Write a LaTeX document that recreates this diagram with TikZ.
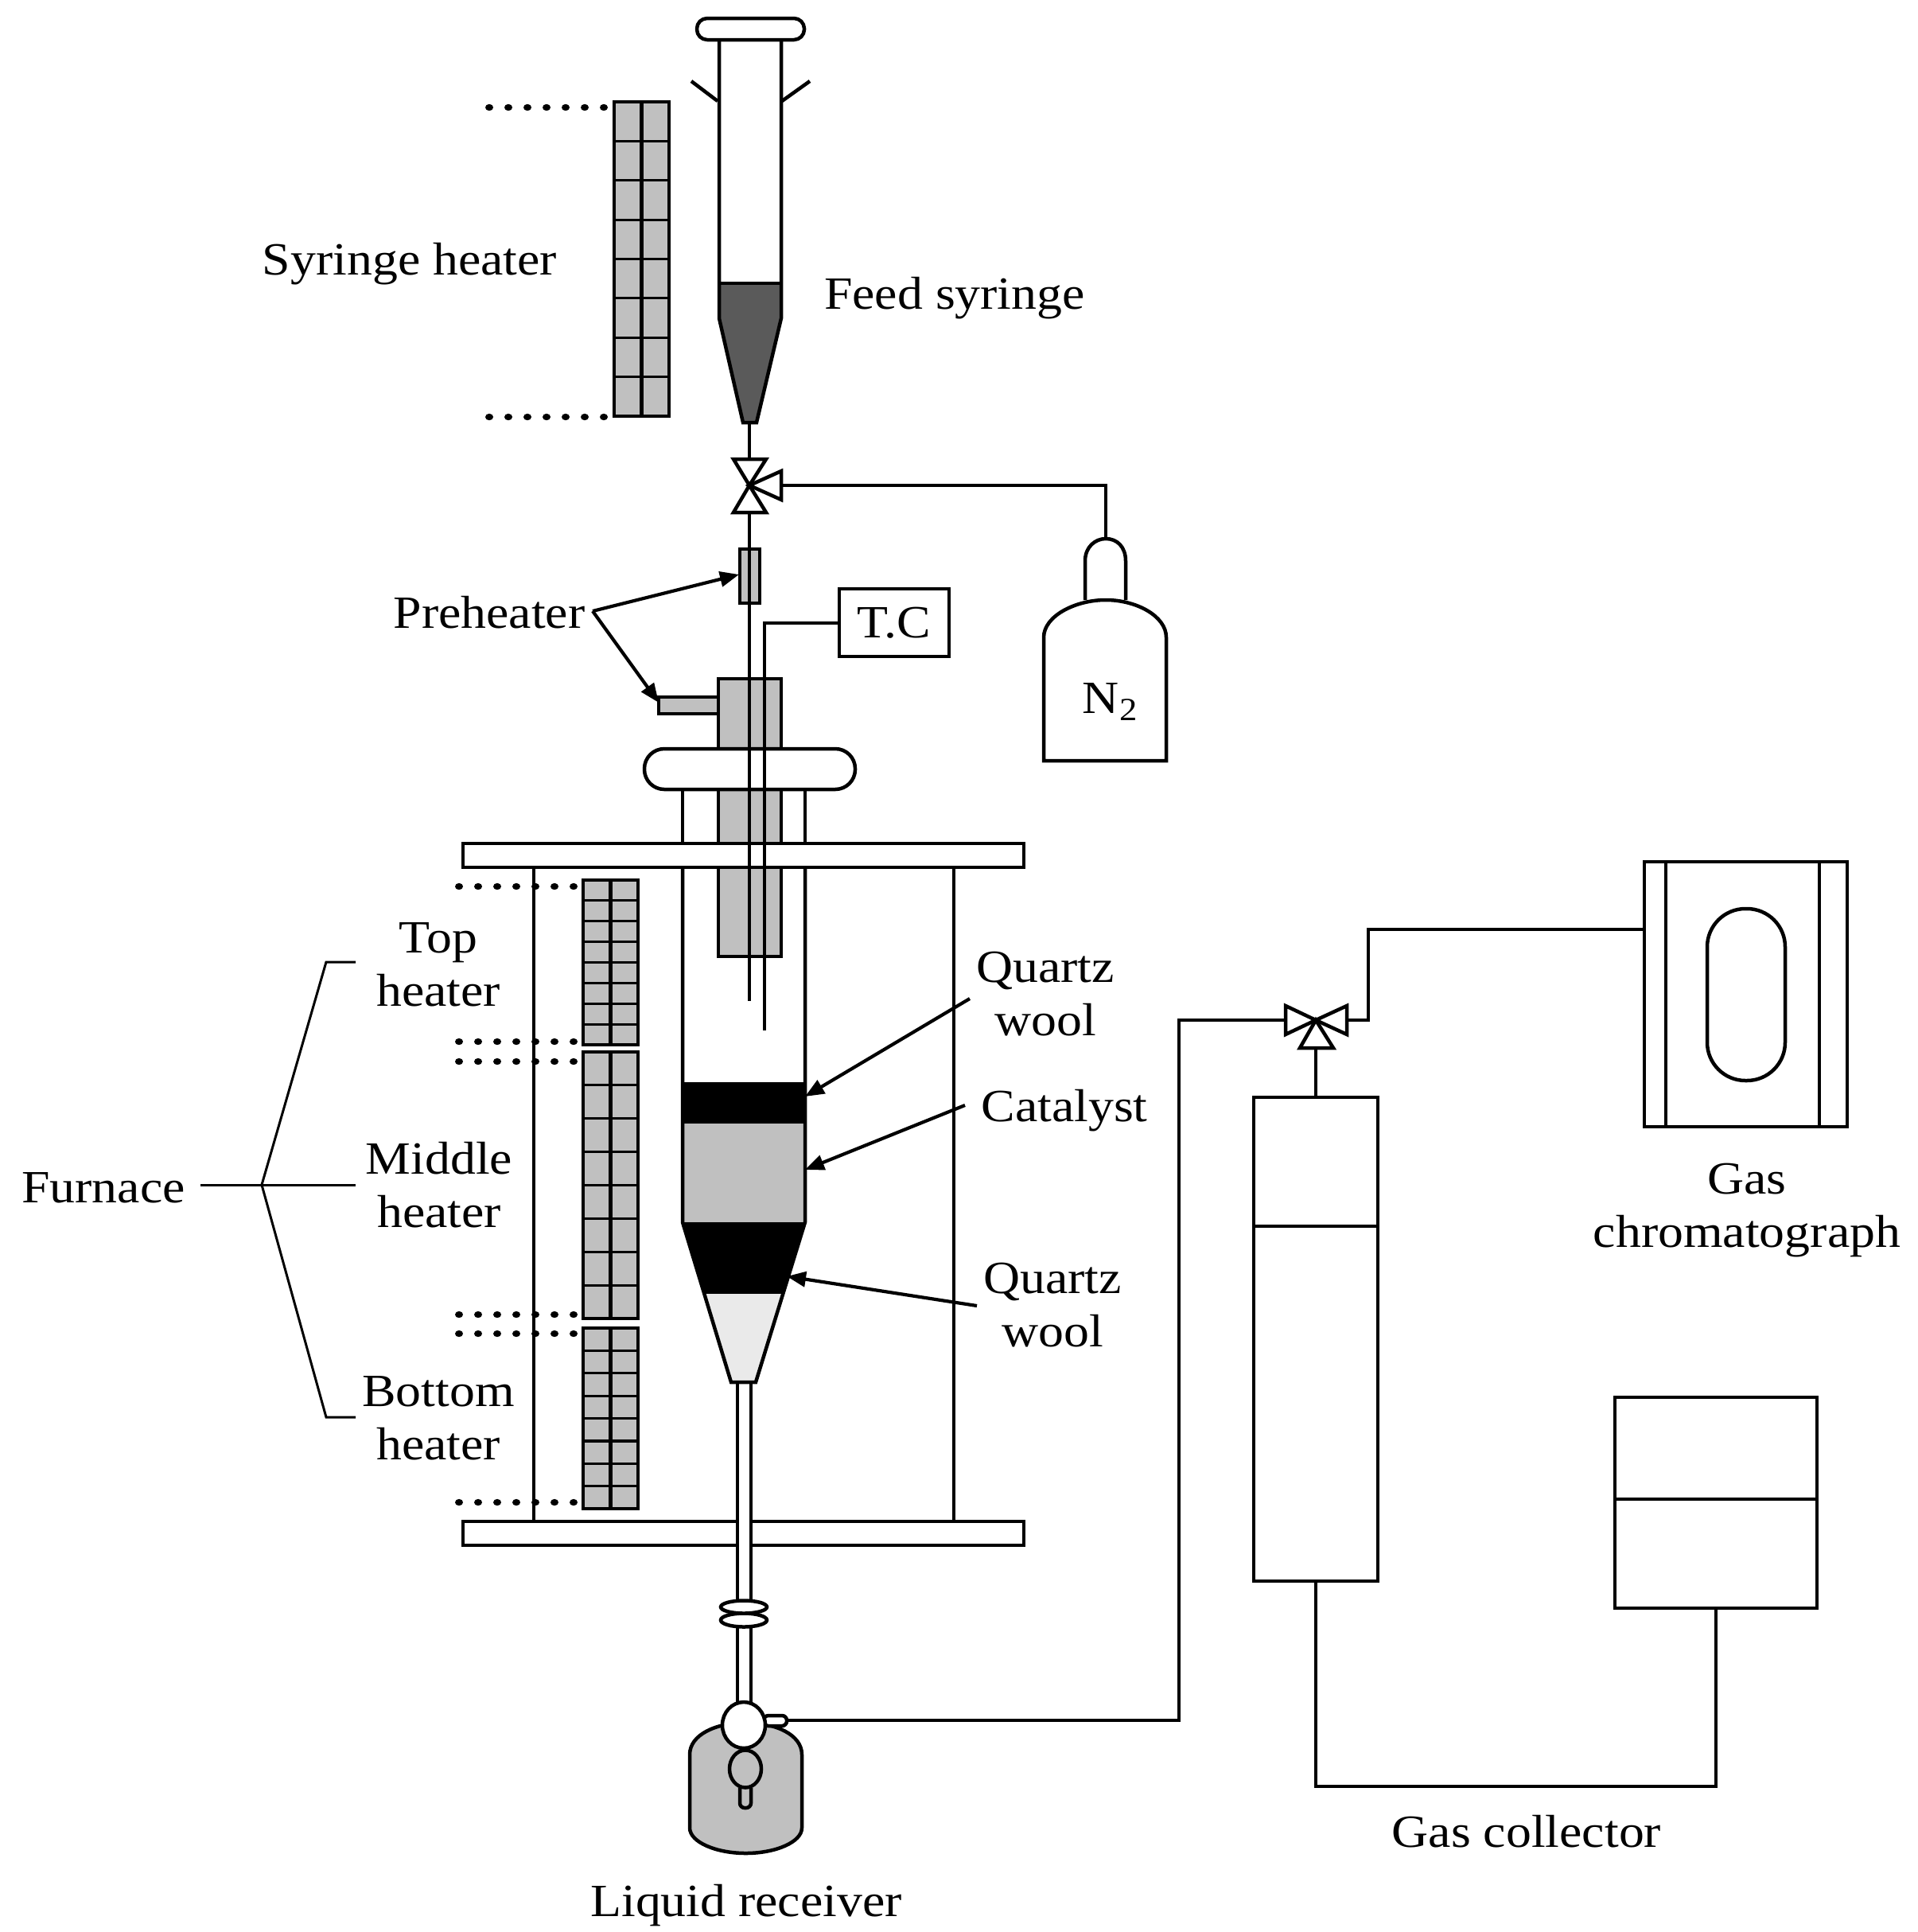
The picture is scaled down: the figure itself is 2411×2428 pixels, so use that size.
\documentclass[tikz,border=0pt]{standalone}
\usepackage{fontspec}
\setmainfont[FakeStretch=1.1]{Liberation Serif}
\usetikzlibrary{arrows.meta}
\definecolor{hgray}{HTML}{C0C0C0}
\definecolor{dgray}{HTML}{5A5A5A}
\definecolor{lgray}{HTML}{EAEAEA}
\newcommand{\heatergrid}[6]{% x1 x2 y1 y2 n name
  \coordinate (#6) at ({(#1+#2)/2},{(#3+#4)/2});
  \fill[hgray] (#1,#3) rectangle (#2,#4);
  \pgfmathsetmacro{\cellh}{(#4-#3)/#5}
  \pgfmathtruncatemacro{\lastc}{#5-1}
  \foreach \i in {1,...,\lastc}{\draw[gridln] (#1,{#3+\i*\cellh}) -- (#2,{#3+\i*\cellh});}
  \draw[ln] ({(#1+#2)/2},#3) -- ({(#1+#2)/2},#4);
  \draw[ln] (#1,#3) rectangle (#2,#4);
}
\newcommand{\dotrow}[2]{% first x, y
  \foreach \i in {0,...,6}{\fill ({#1+24*\i},#2) ellipse [x radius=0.5mm,y radius=0.42mm];}
}
\tikzset{
  ln/.style={line width=0.45mm,line cap=butt,line join=miter},
  thinln/.style={line width=0.3mm},
  gridln/.style={line width=0.32mm},
  gfill/.style={ln,fill=hgray},
  wfill/.style={ln,fill=white},
  arr/.style={line width=0.42mm,-{Triangle[length=2.4mm,width=1.9mm]}},
  lab/.style={anchor=base,inner sep=0pt,outer sep=0pt,align=center,font=\fontsize{16.5}{19}\selectfont},
}
\begin{document}
\begin{tikzpicture}[x=0.1mm,y=-0.1mm]
\useasboundingbox (0,0) rectangle (2411,2428);

% ---- syringe heater ----
\heatergrid{772}{841}{128}{523}{8}{sheater}
\dotrow{615}{135}
\dotrow{615}{524}

% ---- feed syringe ----
\fill[dgray] (904,356) -- (982,356) -- (982,400) -- (951,531) -- (934,531) -- (904,400) -- cycle;
\draw[ln] (904,50) -- (904,400) -- (934,531) -- (951,531) -- (982,400) -- (982,50);
\draw[ln] (904,356) -- (982,356);
\draw[wfill,rounded corners=1.3mm] (876,23) rectangle (1011,50);
\draw[ln] (869,102) -- (902,127);
\draw[ln] (1018,102) -- (983,127);
\coordinate (sytip) at (942,531);

% ---- upper valve ----
\coordinate (valve1) at (942,610);
\coordinate (valve1t) at (942,577);
\coordinate (valve1b) at (942,644);
\coordinate (valve1r) at (982,610);

% ---- N2 cylinder ----
\draw[wfill] (1312,956) -- (1312,801) .. controls (1312,774) and (1352,754) .. (1390,754)
  .. controls (1428,754) and (1466,774) .. (1466,801) -- (1466,956) -- cycle;
\draw[ln] (1364,754) -- (1364,705) .. controls (1364,687) and (1377,677) .. (1390,677)
  .. controls (1404,677) and (1415,687) .. (1415,705) -- (1415,754);
\coordinate (n2top) at (1390,677);
\draw[ln] (valve1r) -| (n2top);

% ---- reactor frame, preheater ----
\draw[gfill] (828,876) rectangle (903,897);
\draw[gfill] (903,853) rectangle (982,1202);
\draw[ln] (858,992) -- (858,1060);
\draw[ln] (1012,992) -- (1012,1060);
\draw[wfill,rounded corners=2.5mm] (810,941) rectangle (1075,992);
\draw[wfill] (582,1060) rectangle (1287,1090);
\draw[wfill] (582,1912) rectangle (1287,1942);
\draw[ln] (671,1090) -- (671,1912);
\draw[ln] (1199,1090) -- (1199,1912);

% ---- reactor tube ----
\fill[black] (858,1360) rectangle (1012,1412);
\fill[hgray] (858,1412) rectangle (1012,1536);
\fill[black] (858,1536) -- (1012,1536) -- (984,1626) -- (885,1626) -- cycle;
\fill[lgray] (885,1626) -- (984,1626) -- (950,1737) -- (919,1737) -- cycle;
\draw[ln] (858,1090) -- (858,1536) -- (919,1737) -- (950,1737) -- (1012,1536) -- (1012,1090);

% ---- process lines through the top ----
\draw[ln] (sytip) -- (valve1t);
\draw[ln] (valve1b) -- (942,1258);
\draw[gfill] (930,690) rectangle (955,758);
\draw[ln] (942,690) -- (942,758);
\draw[wfill] (1055,740) rectangle (1193,825);
\coordinate (tcl) at (1055,783);
\coordinate (tcend) at (961,1295);
\draw[ln] (tcl) -| (tcend);

% valve 1
\draw[wfill] (valve1) -- (922,577) -- (963,577) -- cycle;
\draw[wfill] (valve1) -- (922,644) -- (963,644) -- cycle;
\draw[wfill] (valve1) -- (982,592) -- (982,628) -- cycle;

% ---- furnace heaters ----
\heatergrid{733}{802}{1106}{1313}{8}{topheat}
\heatergrid{733}{802}{1322}{1657}{8}{midheat}
\heatergrid{733}{802}{1669}{1896}{8}{botheat}
\dotrow{577}{1114}
\dotrow{577}{1309}
\dotrow{577}{1334}
\dotrow{577}{1652}
\dotrow{577}{1676}
\dotrow{577}{1888}

% ---- lower tube, rings, receiver ----
\fill[white] (929,1910) rectangle (942,1944);
\draw[ln] (927,1737) -- (927,2012);
\draw[ln] (944,1737) -- (944,2012);
\draw[ln] (927,2044) -- (927,2139);
\draw[ln] (944,2044) -- (944,2139);
\draw[wfill] (935,2036) ellipse [x radius=2.9mm,y radius=0.85mm];
\draw[wfill] (935,2019.5) ellipse [x radius=2.9mm,y radius=0.8mm];
\draw[gfill] (867,2205) .. controls (867,2180) and (900,2165) .. (937.5,2165)
  .. controls (975,2165) and (1008,2180) .. (1008,2205) -- (1008,2297)
  .. controls (1008,2315) and (975,2329) .. (937.5,2329)
  .. controls (900,2329) and (867,2315) .. (867,2297) -- cycle;
\draw[ln,rounded corners=0.6mm] (930,2247) -- (930,2272) -- (944,2272) -- (944,2247);
\draw[gfill] (937,2223) ellipse [x radius=2mm,y radius=2.35mm];
\draw[wfill,rounded corners=0.6mm] (960,2156) rectangle (989,2169);
\draw[wfill] (935,2168) ellipse [x radius=2.7mm,y radius=2.9mm];
\coordinate (recv) at (989,2162);

% ---- gas side ----
\coordinate (valve2) at (1654,1282);
\coordinate (valve2l) at (1616,1282);
\coordinate (valve2r) at (1693,1282);
\coordinate (valve2b) at (1654,1317);
\coordinate (riser) at (1482,1282);
\draw[ln] (recv) -| (riser) -- (valve2l);
\draw[wfill] (1576,1379) rectangle (1732,1987);
\draw[ln] (1576,1541) -- (1732,1541);
\coordinate (coltop) at (1654,1379);
\draw[ln] (valve2b) -- (coltop);
\draw[wfill] (2030,1756) rectangle (2284,2021);
\draw[ln] (2030,1884) -- (2284,1884);
\coordinate (colbot) at (1654,1987);
\coordinate (boxbot) at (2157,2021);
\coordinate (lowl) at (1654,2245);
\coordinate (lowr) at (2157,2245);
\draw[ln] (colbot) -- (lowl) -- (lowr) -- (boxbot);
% gas chromatograph
\draw[wfill] (2067,1083) rectangle (2322,1416);
\draw[ln] (2094,1083) -- (2094,1416);
\draw[ln] (2287,1083) -- (2287,1416);
\draw[wfill,rounded corners=4.8mm] (2146,1142) rectangle (2244,1358);
\coordinate (gcl) at (2067,1168);
\coordinate (bend) at (1720,1282);
\draw[ln] (valve2r) -- (bend) |- (gcl);
% valve 2
\draw[wfill] (valve2) -- (1616,1264) -- (1616,1300) -- cycle;
\draw[wfill] (valve2) -- (1693,1264) -- (1693,1300) -- cycle;
\draw[wfill] (valve2) -- (1634,1317) -- (1676,1317) -- cycle;

% ---- texts ----
\node[lab] (tsh) at (515,345) {Syringe heater};
\node[lab] (tfs) at (1200,388) {Feed syringe};
\node[lab] (tph) at (615,789) {Preheater};
\node[lab] (ttc) at (1124,801) {T.C};
\node[lab] (tn2) at (1396,896) {N\textsubscript{2}};
\node[lab] (ttop) at (551,1264) {Top\\heater};
\node[lab] (tmid) at (552,1542) {Middle\\heater};
\node[lab] (tbot) at (551,1834) {Bottom\\heater};
\node[lab] (tfur) at (130,1511) {Furnace};
\node[lab] (tq1) at (1314,1301) {Quartz\\wool};
\node[lab] (tcat) at (1338,1409) {Catalyst};
\node[lab] (tq2) at (1323,1692) {Quartz\\wool};
\node[lab] (tgc) at (2196,1567) {Gas\\chromatograph};
\node[lab] (tcol) at (1919,2321) {Gas collector};
\node[lab] (tliq) at (938,2408) {Liquid receiver};

% ---- arrows ----
\coordinate (phj) at (745,768);
\coordinate (ph1) at (929,722);
\coordinate (ph2) at (828,883);
\draw[arr] (phj) -- (ph1);
\draw[arr] (phj) -- (ph2);
\coordinate (q1s) at (1219,1255);
\coordinate (q1e) at (1012,1378);
\coordinate (cs) at (1213,1389);
\coordinate (ce) at (1012,1470);
\coordinate (q2s) at (1228,1641);
\coordinate (q2e) at (989,1604);
\draw[arr] (q1s) -- (q1e);
\draw[arr] (cs) -- (ce);
\draw[arr] (q2s) -- (q2e);

% ---- furnace bracket ----
\coordinate (bj) at (329,1489);
\coordinate (bs) at (252,1489);
\coordinate (bm) at (447,1489);
\coordinate (bt1) at (410,1209);
\coordinate (bt2) at (447,1209);
\coordinate (bb1) at (410,1781);
\coordinate (bb2) at (447,1781);
\draw[thinln] (bs) -- (bm);
\draw[thinln] (bt2) -- (bt1) -- (bj) -- (bb1) -- (bb2);
\end{tikzpicture}
\end{document}
